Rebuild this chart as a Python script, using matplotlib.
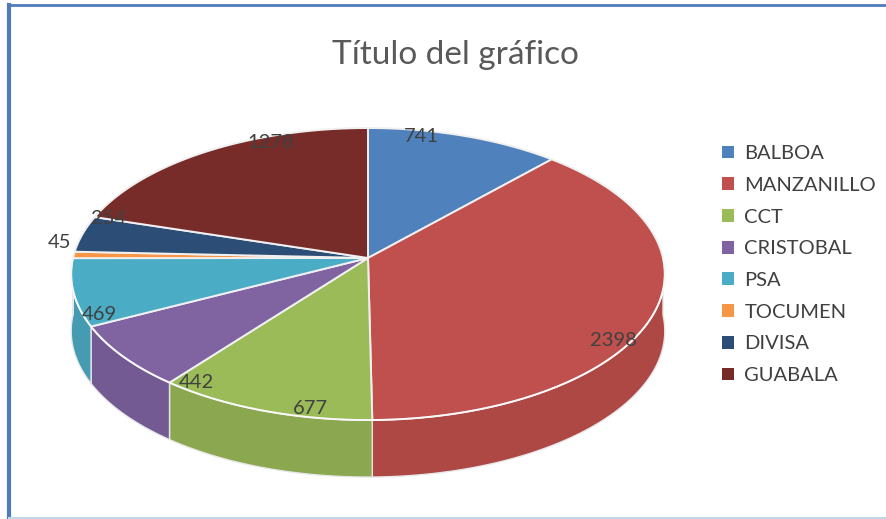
import numpy as np
import matplotlib
matplotlib.use("Agg")
import matplotlib.pyplot as plt
from matplotlib.patches import Polygon, Patch
from matplotlib.lines import Line2D
from matplotlib.colors import to_rgb

plt.rcParams['font.family'] = ['Lato', 'DejaVu Sans']

# datos del grafico
puertos = ["BALBOA", "MANZANILLO", "CCT", "CRISTOBAL", "PSA", "TOCUMEN", "DIVISA", "GUABALA"]
valores = [741, 2398, 677, 442, 469, 45, 254, 1278]
colores = ["#4F81BD", "#C0504D", "#9BBB59", "#8064A2", "#4BACC6", "#F79646", "#2C4D75", "#772C2A"]
titulo = "Título del gráfico"

# geometria del pastel (en pixeles de la imagen)
CX, CY, K = 368, 258, 295
D, sin_a, cos_a = 7.94, 0.489, 0.872
ALTO = 57


def proyectar(x, y):
    prof = D + y * cos_a
    u = x * D / prof
    v = y * sin_a * D / prof
    return CX + K * u, CY - K * v


def arco(t0, t1, n=80):
    t = np.radians(np.linspace(t0, t1, n))
    return proyectar(np.cos(t), np.sin(t))


def oscurecer(c, f=0.9):
    r, g, b = to_rgb(c)
    return (r * f, g * f, b * f)


fig = plt.figure(figsize=(8.87, 5.19), dpi=100)
ax = fig.add_axes([0, 0, 1, 1])
ax.set_xlim(0, 887)
ax.set_ylim(519, 0)
ax.axis("off")

total = sum(valores)
fracs = np.array(valores) / total
fin = 90 - 360 * np.cumsum(fracs)
inicio = np.concatenate([[90], fin[:-1]])

# paredes laterales (mitad delantera)
for a0, a1, col in zip(inicio, fin, colores):
    lo, hi = max(a1, -180), min(a0, 0)
    if hi <= lo:
        continue
    xs, ys = arco(hi, lo)
    pts = np.column_stack([np.r_[xs, xs[::-1]], np.r_[ys, ys[::-1] + ALTO]])
    ax.add_patch(Polygon(pts, closed=True, facecolor=oscurecer(col),
                         edgecolor="#E8E8E8", linewidth=1.0, zorder=2))

# caras superiores
for a0, a1, col in zip(inicio, fin, colores):
    xs, ys = arco(a0, a1)
    pts = np.column_stack([np.r_[CX, xs], np.r_[CY, ys]])
    ax.add_patch(Polygon(pts, closed=True, facecolor=col, edgecolor="#F0F0F0",
                         linewidth=1.4, joinstyle="round", zorder=3))

# borde claro en el frente
xs, ys = arco(0, -180)
ax.plot(xs, ys, color="white", alpha=0.6, lw=1.2, zorder=4)

# etiquetas de datos
for a0, a1, v, f in zip(inicio, fin, valores, fracs):
    t = np.radians((a0 + a1) / 2)
    dx, dy = np.cos(t), 1.8 * np.sin(t)
    n = np.hypot(dx, dy)
    r = 1.05 if f < 0.02 else 0.95
    lx, ly = proyectar(r * dx / n, r * dy / n)
    if f < 0.02:
        ly -= 10
    ax.text(lx, ly, str(v), ha="center", va="center", fontsize=14.5,
            color="#404040", zorder=5)

ax.text(455, 55, titulo, ha="center", va="center", fontsize=24, color="#595959")

handles = [Patch(facecolor=c, edgecolor="none") for c in colores]
ax.legend(handles, puertos, loc="upper left", bbox_to_anchor=(704 / 887, 1 - 127 / 519),
          frameon=False, fontsize=14.5, handlelength=0.6, handleheight=0.6,
          handletextpad=0.5, labelspacing=0.73, labelcolor="#404040")

# marco
fig.add_artist(Line2D([9 / 887, 9 / 887], [0, 1 - 5 / 519], color="#4F7BBA", lw=3))
fig.add_artist(Line2D([9 / 887, 1], [1 - 5 / 519, 1 - 5 / 519], color="#4F7BBA", lw=2))
fig.add_artist(Line2D([9 / 887, 1], [1.5 / 519, 1.5 / 519], color="#BFD7EA", lw=1.5))

fig.savefig("out.png", dpi=100, facecolor="white")
